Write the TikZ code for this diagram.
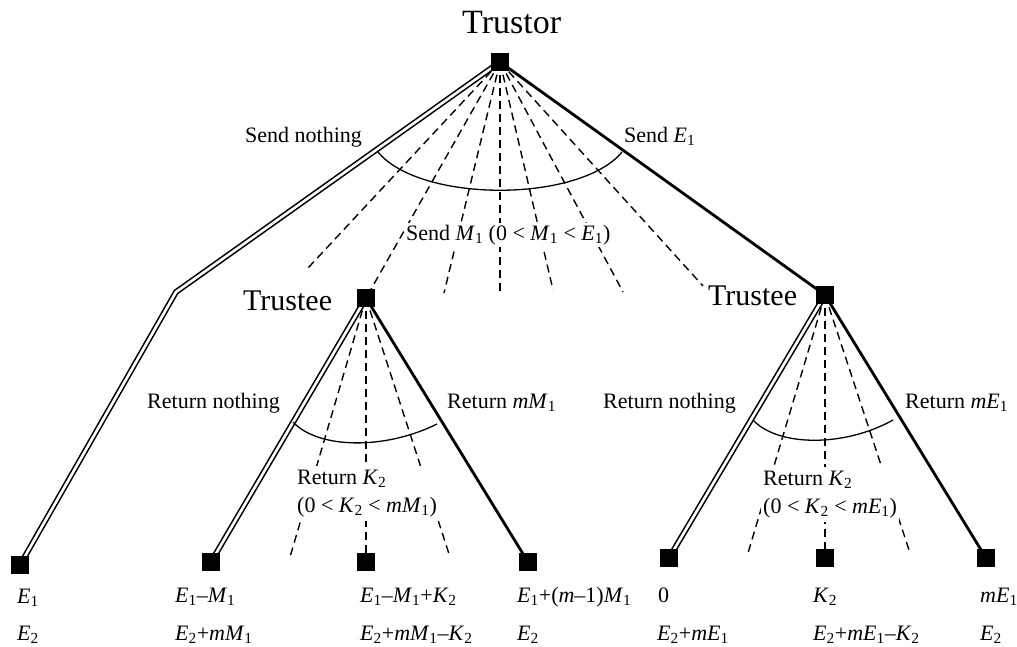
\documentclass[tikz,border=0pt]{standalone}
\usepackage{fontspec}
\setmainfont{Liberation Serif}
\newcommand\iv[2]{\textit{#1}\textsubscript{#2}}
\pgfdeclarelayer{bg}
\pgfsetlayers{bg,main}
\begin{document}
\begin{tikzpicture}[x=1pt,y=-1pt,
  sq/.style={rectangle,fill=black,minimum size=18pt,inner sep=0pt},
  dbl/.style={double,draw=black,line width=1.6pt,double distance=2.6pt,line join=miter},
  thk/.style={line width=2.8pt},
  dsh/.style={line width=1.4pt,dash pattern=on 8pt off 5pt},
  arcst/.style={line width=1.3pt},
  lbl/.style={font=\fontsize{22}{26}\selectfont,inner sep=0pt,anchor=base west},
  big/.style={font=\fontsize{34}{38}\selectfont,inner sep=0pt,anchor=base west},
  mid/.style={font=\fontsize{30}{34}\selectfont,inner sep=0pt,anchor=base west},
  rk/.style={font=\fontsize{22}{28}\selectfont,fill=white,align=left,anchor=north west,inner xsep=2pt,inner ysep=4pt}
]
\useasboundingbox (0,0) rectangle (1017,646);
% decision nodes
\node[sq] (tor) at (500,62) {};
\node[sq] (teL) at (366,298) {};
\node[sq] (teR) at (825,295) {};
% terminal nodes
\node[sq] (l0) at (20,565) {};
\node[sq] (l1) at (211,562) {};
\node[sq] (l2) at (366,562) {};
\node[sq] (l3) at (528,562) {};
\node[sq] (r1) at (669,558) {};
\node[sq] (r2) at (825,558) {};
\node[sq] (r3) at (986,558) {};
% free ends
\coordinate (kink) at (176,292);
\coordinate (d1) at (308,268);
\coordinate (d2) at (444,293);
\coordinate (d3) at (500,292);
\coordinate (d4) at (553,290);
\coordinate (d5) at (623,292);
\coordinate (d6) at (703,286);
\coordinate (a1) at (290,557);
\coordinate (a2) at (450,557);
\coordinate (b1) at (748,553);
\coordinate (b2) at (910,553);

\begin{pgfonlayer}{bg}
% trustor
\draw[dbl] (tor.center) -- (kink) -- (l0.center);
\draw[thk] (tor.center) -- (teR.center);
\foreach \p in {d1,d2,d3,d4,d5,d6} \draw[dsh] (tor.center) -- (\p);
\draw[dsh] (tor.center) -- (teL.center);
\draw[arcst] (378,152) .. controls (420,203) and (580,203) .. (622,152);
% left trustee
\draw[dbl] (teL.center) -- (l1.center);
\draw[thk] (teL.center) -- (l3.center);
\draw[dsh] (teL.center) -- (a1);
\draw[dsh] (teL.center) -- (l2.center);
\draw[dsh] (teL.center) -- (a2);
\draw[arcst] (293,422) .. controls (318,449) and (385,450) .. (437,424);
% right trustee
\draw[dbl] (teR.center) -- (r1.center);
\draw[thk] (teR.center) -- (r3.center);
\draw[dsh] (teR.center) -- (b1);
\draw[dsh] (teR.center) -- (r2.center);
\draw[dsh] (teR.center) -- (b2);
\draw[arcst] (753,420) .. controls (778,447) and (845,447) .. (893,420);
\end{pgfonlayer}

% player names
\node[big] (ttor) at (462,33) {Trustor};
\node[mid] (tteL) at (243,310) {Trustee};
\node[mid] (tteR) at (708,305) {Trustee};
% action labels
\node[lbl] (sn) at (245,142) {Send nothing};
\node[lbl] (se) at (624,142) {Send \iv{E}{1}};
\node[lbl,fill=white,inner xsep=1pt,inner ysep=2pt] (sm) at (405,240) {Send \iv{M}{1} (0 {<} \iv{M}{1} {<} \iv{E}{1})};
\node[lbl] (rnL) at (147,408) {Return nothing};
\node[lbl] (rmL) at (447,408) {Return \textit{m}\iv{M}{1}};
\node[rk] (rkL) at (295,466) {Return \iv{K}{2}\\(0 {<} \iv{K}{2} {<} \textit{m}\iv{M}{1})};
\node[lbl] (rnR) at (603,408) {Return nothing};
\node[lbl] (rmR) at (905,408) {Return \textit{m}\iv{E}{1}};
\node[rk] (rkR) at (761,467) {Return \iv{K}{2}\\(0 {<} \iv{K}{2} {<} \textit{m}\iv{E}{1})};
% payoffs
\node[lbl] (p0a) at (17,603) {\iv{E}{1}};
\node[lbl] (p0b) at (17,640) {\iv{E}{2}};
\node[lbl] (p1a) at (175,602) {\iv{E}{1}–\iv{M}{1}};
\node[lbl] (p1b) at (175,640) {\iv{E}{2}+\textit{m}\iv{M}{1}};
\node[lbl] (p2a) at (360,602) {\iv{E}{1}–\iv{M}{1}+\iv{K}{2}};
\node[lbl] (p2b) at (360,640) {\iv{E}{2}+\textit{m}\iv{M}{1}–\iv{K}{2}};
\node[lbl] (p3a) at (517,602) {\iv{E}{1}+(\textit{m}–1)\iv{M}{1}};
\node[lbl] (p3b) at (517,640) {\iv{E}{2}};
\node[lbl] (q1a) at (658,602) {0};
\node[lbl] (q1b) at (657,640) {\iv{E}{2}+\textit{m}\iv{E}{1}};
\node[lbl] (q2a) at (813,602) {\iv{K}{2}};
\node[lbl] (q2b) at (813,640) {\iv{E}{2}+\textit{m}\iv{E}{1}–\iv{K}{2}};
\node[lbl] (q3a) at (980,602) {\textit{m}\iv{E}{1}};
\node[lbl] (q3b) at (980,640) {\iv{E}{2}};
\end{tikzpicture}
\end{document}
